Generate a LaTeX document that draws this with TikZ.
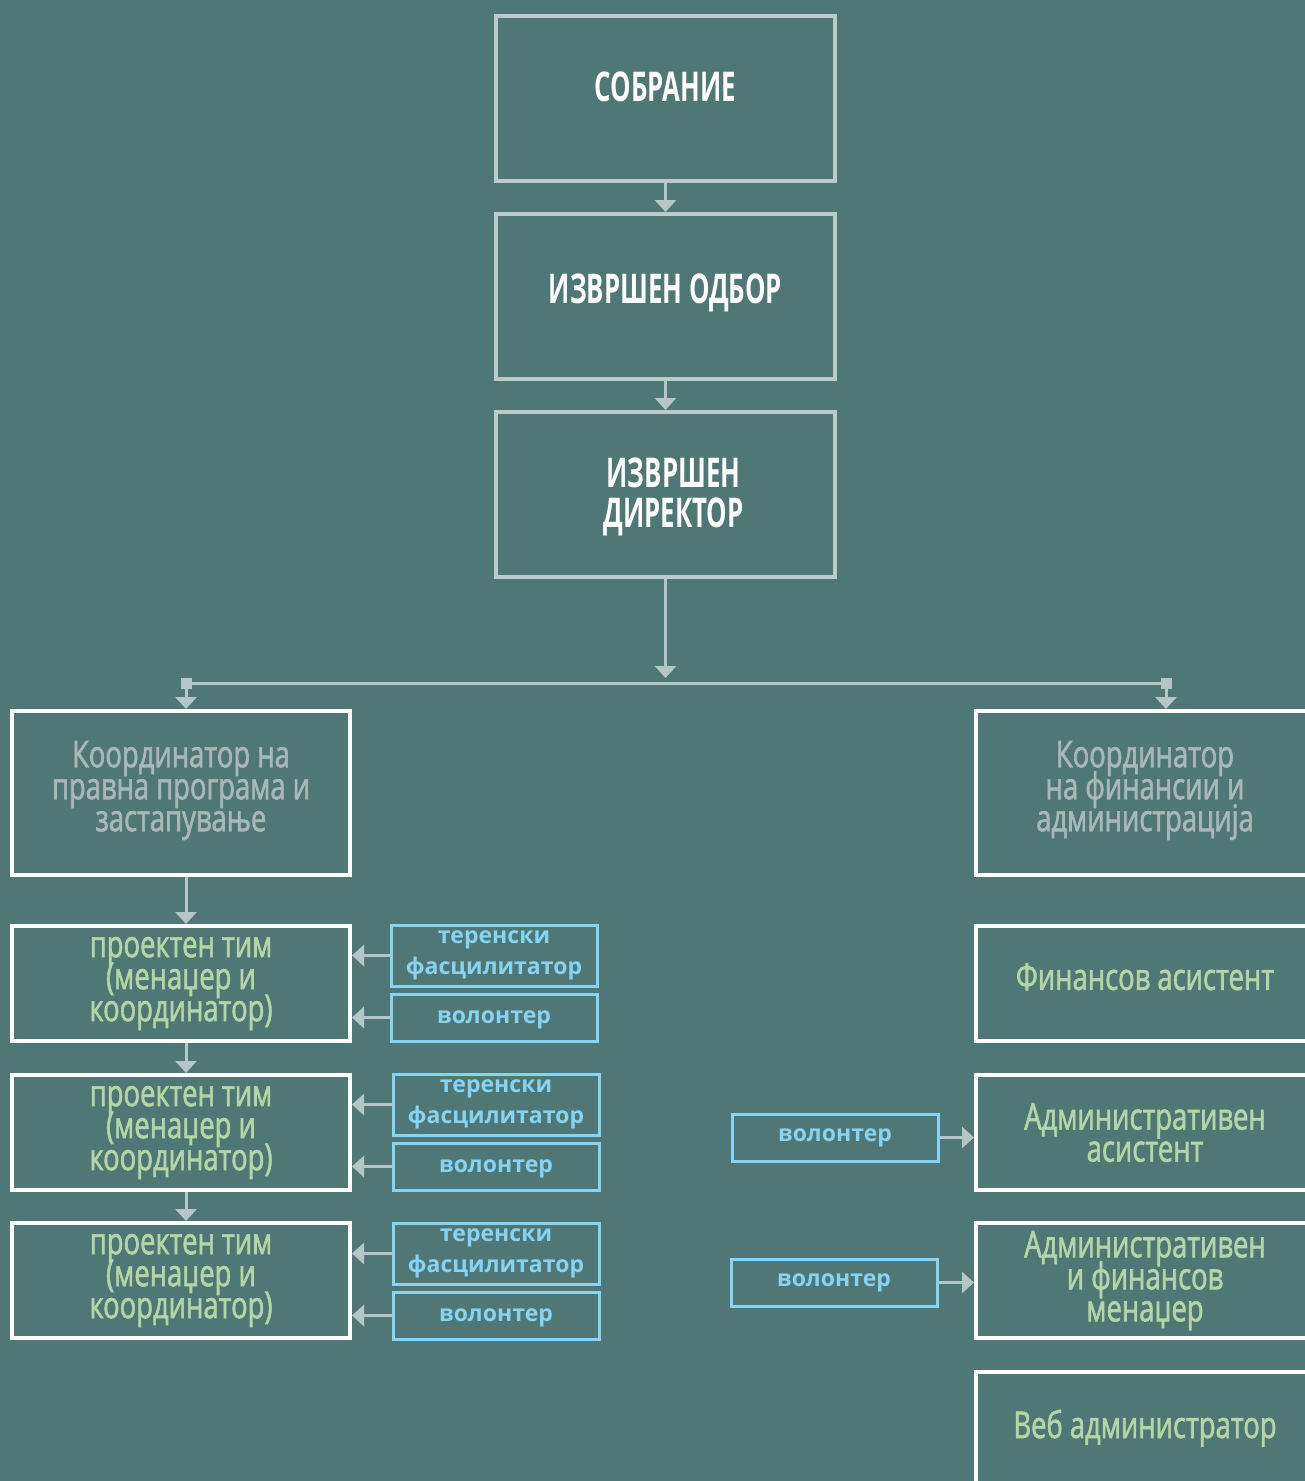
\documentclass[tikz,border=0pt]{standalone}
\usepackage{fontspec}
\setmainfont{Open Sans}
\newfontfamily\condfont[FakeStretch=0.74, FakeBold=1.6]{Open Sans}
\newfontfamily\titlefont[FakeStretch=0.63]{Open Sans}
\newfontfamily\smallfont{Open Sans}
\usetikzlibrary{arrows.meta}
\definecolor{bgc}{HTML}{4F7776}
\definecolor{topc}{HTML}{B9CBCB}
\definecolor{arrc}{HTML}{B5C6C6}
\definecolor{grayt}{HTML}{A7B8B7}
\definecolor{greent}{HTML}{B4D5A5}
\definecolor{bluec}{HTML}{86D3F2}
\tikzset{
  tight/.style={execute at begin node={\lineskiplimit=-100pt\lineskip=0pt}},
  topbox/.style={tight, draw=topc, line width=4pt, minimum width=339pt, minimum height=165pt,
    inner sep=0pt, text=white, align=center,
    font=\titlefont\bfseries\fontsize{41}{40}\selectfont},
  wbox/.style={tight, draw=white, line width=4pt, minimum width=338pt, inner sep=0pt, align=center,
    font=\condfont\fontsize{37}{32}\selectfont},
  coordbox/.style={wbox, minimum height=164pt, text=grayt},
  projbox/.style={wbox, minimum height=115pt, text=greent},
  bluebox/.style={tight, draw=bluec, line width=3pt, minimum width=206pt, inner sep=0pt, align=center,
    text=bluec, font=\smallfont\bfseries\fontsize{23}{31}\selectfont},
  conn/.style={draw=arrc, line width=3pt, -{Triangle[width=21pt,length=12pt]}},
  plainline/.style={draw=arrc, line width=3pt},
}
\begin{document}
\begin{tikzpicture}[x=1pt,y=-1pt]
\fill[bgc] (0,0) rectangle (1305,1481);
\useasboundingbox (0,0) rectangle (1305,1481);
\clip (0,0) rectangle (1305,1481);

% top chain
\node[topbox, text depth=24pt] (sob) at (665.5,98.5) {СОБРАНИЕ};
\node[topbox, text depth=16pt] (odb) at (665.5,296.5) {ИЗВРШЕН ОДБОР};
\node[topbox, text depth=4pt] (dir) at (665.5,494.5) {\hspace*{16pt}ИЗВРШЕН\\\hspace*{16pt}ДИРЕКТОР};
\draw[conn] (sob.south) -- (odb.north);
\draw[conn] (odb.south) -- (dir.north);

% branch
\coordinate (junc) at (665.5,678);
\coordinate (lend) at (186,683);
\coordinate (rend) at (1166,683);
\draw[conn] (dir.south) -- (junc);
\draw[plainline] (lend) -- (rend);
\fill[arrc] ([shift={(-5.5,-5.5)}]lend) rectangle ([shift={(5.5,5.5)}]lend);
\fill[arrc] ([shift={(-5.5,-5.5)}]rend) rectangle ([shift={(5.5,5.5)}]rend);

% left column
\node[coordbox, text depth=14pt] (lc) at (181,793) {Координатор на\\правна програма и\\застапување};
\node[projbox] (p1) at (181,983.5) {проектен тим\\(менаџер и\\координатор)};
\node[projbox] (p2) at (181,1132.5) {проектен тим\\(менаџер и\\координатор)};
\node[projbox] (p3) at (181,1280.5) {проектен тим\\(менаџер и\\координатор)};
\draw[conn] (lend) -- (lend |- lc.north);
\draw[conn] ([xshift=5pt]lc.south) -- ([xshift=5pt]p1.north);
\draw[conn] ([xshift=5pt]p1.south) -- ([xshift=5pt]p2.north);
\draw[conn] ([xshift=5pt]p2.south) -- ([xshift=5pt]p3.north);

% left blue boxes
\node[bluebox, minimum height=61pt] (t1) at (494,955.5) {теренски\\фасцилитатор};
\node[bluebox, minimum height=47pt, text depth=0pt] (v1) at (494,1017.5) {волонтер};
\node[bluebox, minimum height=61pt] (t2) at (496,1104.5) {теренски\\фасцилитатор};
\node[bluebox, minimum height=47pt, text depth=0pt] (v2) at (496,1166.5) {волонтер};
\node[bluebox, minimum height=61pt] (t3) at (496,1253.5) {теренски\\фасцилитатор};
\node[bluebox, minimum height=47pt, text depth=0pt] (v3) at (496,1315.5) {волонтер};
\foreach \s/\t in {t1/p1,v1/p1,t2/p2,v2/p2,t3/p3,v3/p3}
  \draw[conn] (\s.west) -- (\t.east |- \s.west);

% right column
\node[coordbox, text depth=14pt] (rc) at (1145,793) {Координатор\\на финансии и\\администрација};
\node[projbox, text depth=14pt] (fa) at (1145,983.5) {Финансов асистент};
\node[projbox] (aa) at (1145,1132.5) {Административен\\асистент};
\node[projbox] (afm) at (1145,1280.5) {Административен\\и финансов\\менаџер};
\node[wbox, minimum height=130pt, text=greent] (web) at (1145,1437) {};
\node[text=greent, font=\condfont\fontsize{37}{32}\selectfont, anchor=base] (webt) at (1145,1438) {Веб администратор};
\draw[conn] (rend) -- (rend |- rc.north);

\node[bluebox, minimum height=47pt] (rv1) at (835,1137.5) {волонтер};
\node[bluebox, minimum height=47pt] (rv2) at (834,1282.5) {волонтер};
\draw[conn] (rv1.east) -- (aa.west |- rv1.east);
\draw[conn] (rv2.east) -- (afm.west |- rv2.east);
\end{tikzpicture}
\end{document}
